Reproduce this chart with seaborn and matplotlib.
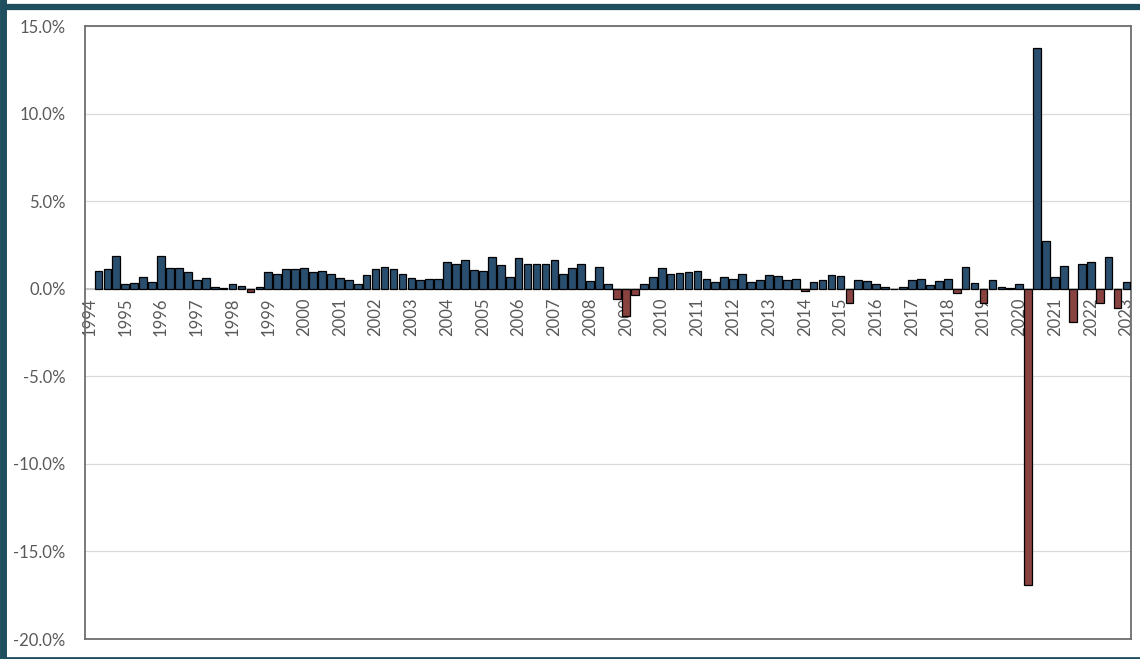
import numpy as np
import pandas as pd
import matplotlib
matplotlib.use("Agg")
import matplotlib.pyplot as plt
import matplotlib.transforms as mtransforms
from matplotlib.lines import Line2D
import seaborn as sns

# quarter-on-quarter change, % (1994 Q1 has no value)
years = list(range(1994, 2024))
chg_1994_2003 = [np.nan, 0.99, 1.14, 1.88,
                 0.27, 0.32, 0.68, 0.36,
                 1.88, 1.20, 1.20, 0.95,
                 0.48, 0.63, 0.11, 0.04,
                 0.29, 0.15, -0.21, 0.10,
                 0.97, 0.82, 1.10, 1.10,
                 1.18, 0.93, 1.00, 0.87,
                 0.61, 0.49, 0.27, 0.78,
                 1.10, 1.27, 1.12, 0.84,
                 0.63, 0.49, 0.55, 0.57]
chg_2004_2013 = [1.52, 1.41, 1.63, 1.06,
                 1.00, 1.80, 1.37, 0.67,
                 1.75, 1.43, 1.39, 1.39,
                 1.62, 0.82, 1.16, 1.41,
                 0.42, 1.22, 0.25, -0.57,
                 -1.54, -0.34, 0.25, 0.67,
                 1.18, 0.84, 0.91, 0.95,
                 0.99, 0.55, 0.40, 0.68,
                 0.55, 0.86, 0.40, 0.49,
                 0.80, 0.74, 0.48, 0.55]
chg_2014_2023 = [-0.15, 0.40, 0.49, 0.78,
                 0.74, -0.84, 0.48, 0.44,
                 0.27, 0.11, 0.00, 0.11,
                 0.48, 0.57, 0.19, 0.42,
                 0.53, -0.25, 1.25, 0.30,
                 -0.82, 0.48, 0.11, 0.02,
                 0.27, -16.90, 13.75, 2.74,
                 0.65, 1.31, -1.88, 1.41,
                 1.54, -0.82, 1.79, -1.10,
                 0.36]

values = chg_1994_2003 + chg_2004_2013 + chg_2014_2023
quarters = [f"{y}Q{q}" for y in years for q in range(1, 5)][:len(values)]

df = pd.DataFrame({"quarter": quarters, "change": values})
df["sign"] = np.where(df["change"] < 0, "neg", "pos")

plt.rcParams["font.family"] = ["Lato", "DejaVu Sans"]
label_col = "#595959"

fig = plt.figure(figsize=(11.4, 6.59), dpi=100)
ax = fig.add_axes([0.0746, 0.0303, 0.9175, 0.9302])

sns.barplot(data=df, x="quarter", y="change", hue="sign", order=quarters,
            palette={"pos": "#1f4e79", "neg": "#943634"}, dodge=False,
            width=0.86, edgecolor="black", linewidth=0.9, errorbar=None,
            legend=False, ax=ax, zorder=3)

ax.set_xlim(-0.5, len(quarters) - 0.5)
ax.set_ylim(-20, 15)
ax.set_yticks(np.arange(-20, 16, 5))
ax.set_yticklabels([f"{v:.1f}%" for v in np.arange(-20, 16, 5)])
ax.tick_params(axis="y", length=0, pad=14, labelsize=12, labelcolor=label_col)
ax.set_xticks([])
ax.set_xlabel("")
ax.set_ylabel("")
ax.yaxis.grid(True, color="#d9d9d9", linewidth=0.9)
ax.set_axisbelow(True)
for sp in ax.spines.values():
    sp.set_color("#6e6e6e")
    sp.set_linewidth(1.3)

# category axis sitting on the zero line
ax.axhline(0, color="#bfbfbf", linewidth=1.2, zorder=2)
offset = mtransforms.ScaledTranslation(0, -6 / 72, fig.dpi_scale_trans)
for i, yr in zip(range(0, len(quarters), 4), years):
    ax.text(i, 0, str(yr), rotation=90, ha="center", va="top",
            fontsize=12, color=label_col, zorder=2,
            transform=ax.transData + offset)

# outer frame of the picture
frame_col = "#1f4e5f"
fig.add_artist(Line2D([0.003, 0.003], [0, 1], transform=fig.transFigure,
                      color=frame_col, linewidth=5))
fig.add_artist(Line2D([0, 1], [0.99, 0.99], transform=fig.transFigure,
                      color=frame_col, linewidth=4.5))
fig.add_artist(Line2D([0, 1], [0.002, 0.002], transform=fig.transFigure,
                      color=frame_col, linewidth=2))

fig.savefig("out.png", dpi=100)
